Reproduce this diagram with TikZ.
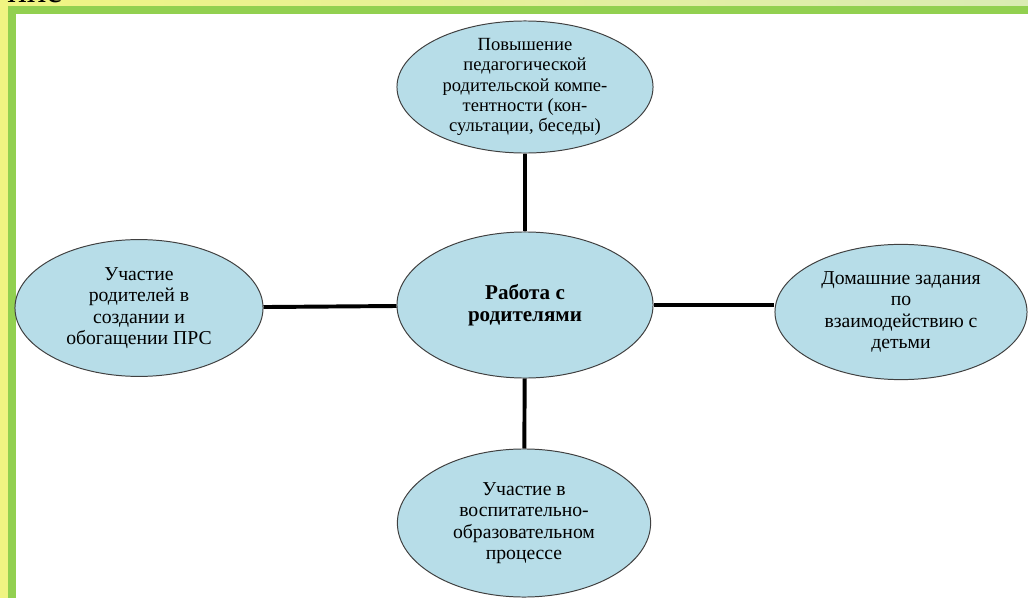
\documentclass[tikz,border=0pt]{standalone}
\usepackage{fontspec}
\setmainfont{Liberation Serif}
\usetikzlibrary{shapes.geometric}

\definecolor{bubfill}{RGB}{183,221,232}
\definecolor{frame}{RGB}{146,208,80}
\definecolor{bgleft}{RGB}{240,244,130}
\definecolor{bgright}{RGB}{218,236,180}

\tikzset{
  bub/.style={ellipse, draw=black!75, line width=0.7pt, fill=bubfill, inner sep=0pt},
  txt/.style={align=center, text=black, font=\fontsize{14}{15.3}\selectfont},
  link/.style={line width=2.8pt, black}
}

\begin{document}
\begin{tikzpicture}[x=0.025cm, y=-0.025cm]
   \useasboundingbox (0,0) rectangle (1028,598);
   \shade[left color=bgleft, right color=bgright] (0,0) rectangle (1028,598);
   \fill[frame] (8,6) rectangle (1028,598);
   \fill[white] (16,14) rectangle (1028,598);
   \node[anchor=base west, inner sep=0pt, font=\fontsize{26}{26}\selectfont, name=h] at (7,3) {ине};

   \node[bub, name=m, minimum width=6.4cm, minimum height=3.65cm,
      label={[txt, font=\fontsize{15}{15.6}\selectfont\bfseries]center:Работа с\\родителями}] at (525,305) {};
   \node[bub, name=t, minimum width=6.4cm, minimum height=3.3cm,
      label={[txt, font=\fontsize{13.2}{14.4}\selectfont]center:Повышение\\педагогической\\родительской компе-\\тентности (кон-\\сультации, беседы)}] at (525,87) {};
   \node[bub, name=l, minimum width=6.2cm, minimum height=3.42cm,
      label={[txt]center:Участие\\родителей в\\создании и\\обогащении ПРС}] at (139,308) {};
   \node[bub, name=r, minimum width=6.3cm, minimum height=3.38cm,
      label={[txt]center:Домашние задания\\по\\взаимодействию с\\детьми}] at (901,312) {};
   \node[bub, name=b, minimum width=6.33cm, minimum height=3.7cm,
      label={[txt]center:Участие в\\воспитательно-\\образовательном\\процессе}] at (524,523) {};

   \path[link]
      (t) edge (m)
      (m) edge (b)
      (l) edge (m)
      (m.east) edge (m.east -| r.west);
\end{tikzpicture}
\end{document}
